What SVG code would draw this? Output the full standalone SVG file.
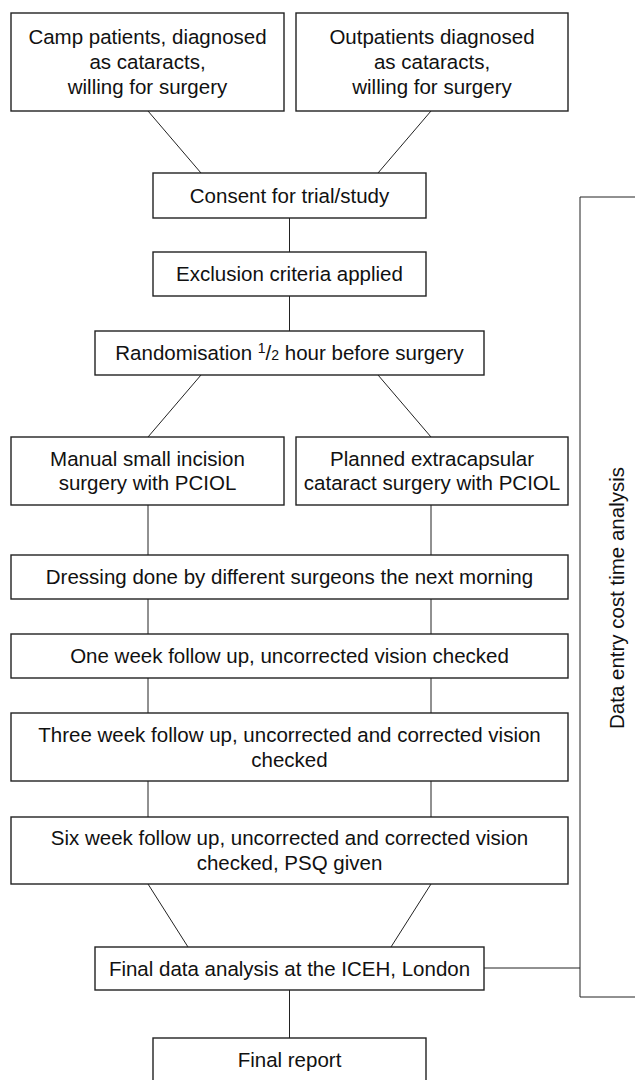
<svg xmlns="http://www.w3.org/2000/svg" width="635" height="1080" viewBox="0 0 635 1080">
<style>
rect.box{fill:#fff;stroke:#222;stroke-width:1.4}
.conn line,.conn path{stroke:#222;stroke-width:1;fill:none}
text{font-family:"Liberation Sans",Arial,sans-serif;font-size:20.5px;fill:#111;text-anchor:middle}
.sm{font-size:14px}
</style>
<rect width="635" height="1080" fill="#fff"/>
<g class="conn" id="connectors">
<line x1="148" y1="111" x2="201" y2="173"/>
<line x1="431" y1="111" x2="378" y2="173"/>
<line x1="289.5" y1="218" x2="289.5" y2="252"/>
<line x1="289.5" y1="296" x2="289.5" y2="331"/>
<line x1="201" y1="375" x2="148" y2="437"/>
<line x1="378" y1="375" x2="431" y2="437"/>
<line x1="148" y1="505" x2="148" y2="555"/>
<line x1="431" y1="505" x2="431" y2="555"/>
<line x1="148" y1="599" x2="148" y2="634"/>
<line x1="431" y1="599" x2="431" y2="634"/>
<line x1="148" y1="678" x2="148" y2="713"/>
<line x1="431" y1="678" x2="431" y2="713"/>
<line x1="148" y1="781" x2="148" y2="817"/>
<line x1="431" y1="781" x2="431" y2="817"/>
<line x1="148" y1="884" x2="188" y2="947"/>
<line x1="431" y1="884" x2="391" y2="947"/>
<line x1="289.5" y1="990" x2="289.5" y2="1038"/>
<line x1="484" y1="968" x2="580" y2="968"/>
<path d="M640 197 H580 V997 H640"/>
</g>
<g id="camp"><rect class="box" x="11" y="13" width="273" height="98"/>
<text x="147.5" y="44">Camp patients, diagnosed</text><text x="147.5" y="69">as cataracts,</text><text x="147.5" y="94">willing for surgery</text></g>
<g id="outpatients"><rect class="box" x="296" y="13" width="272" height="98"/>
<text x="432" y="44">Outpatients diagnosed</text><text x="432" y="69">as cataracts,</text><text x="432" y="94">willing for surgery</text></g>
<g id="consent"><rect class="box" x="153" y="173" width="273" height="45"/>
<text x="289.5" y="203">Consent for trial/study</text></g>
<g id="exclusion"><rect class="box" x="153" y="252" width="273" height="44"/>
<text x="289.5" y="281">Exclusion criteria applied</text></g>
<g id="randomisation"><rect class="box" x="95" y="331" width="389" height="44"/>
<text x="289.5" y="360">Randomisation <tspan class="sm" dy="-7">1</tspan><tspan dy="7">/</tspan><tspan class="sm">2</tspan> hour before surgery</text></g>
<g id="manual"><rect class="box" x="11" y="437" width="273" height="68"/>
<text x="147.5" y="466">Manual small incision</text><text x="147.5" y="490">surgery with PCIOL</text></g>
<g id="planned"><rect class="box" x="296" y="437" width="272" height="68"/>
<text x="432" y="466">Planned extracapsular</text><text x="432" y="490">cataract surgery with PCIOL</text></g>
<g id="dressing"><rect class="box" x="11" y="555" width="557" height="44"/>
<text x="289.5" y="584">Dressing done by different surgeons the next morning</text></g>
<g id="oneweek"><rect class="box" x="11" y="634" width="557" height="44"/>
<text x="289.5" y="663">One week follow up, uncorrected vision checked</text></g>
<g id="threeweek"><rect class="box" x="11" y="713" width="557" height="68"/>
<text x="289.5" y="742">Three week follow up, uncorrected and corrected vision</text><text x="289.5" y="767">checked</text></g>
<g id="sixweek"><rect class="box" x="11" y="817" width="557" height="67"/>
<text x="289.5" y="845">Six week follow up, uncorrected and corrected vision</text><text x="289.5" y="870">checked, PSQ given</text></g>
<g id="finaldata"><rect class="box" x="95" y="947" width="389" height="43"/>
<text x="289.5" y="976">Final data analysis at the ICEH, London</text></g>
<g id="finalreport"><rect class="box" x="153" y="1038" width="273" height="60"/>
<text x="289.5" y="1067">Final report</text></g>
<g id="bracketlabel"><text transform="translate(624,598) rotate(-90)">Data entry cost time analysis</text></g>
</svg>
